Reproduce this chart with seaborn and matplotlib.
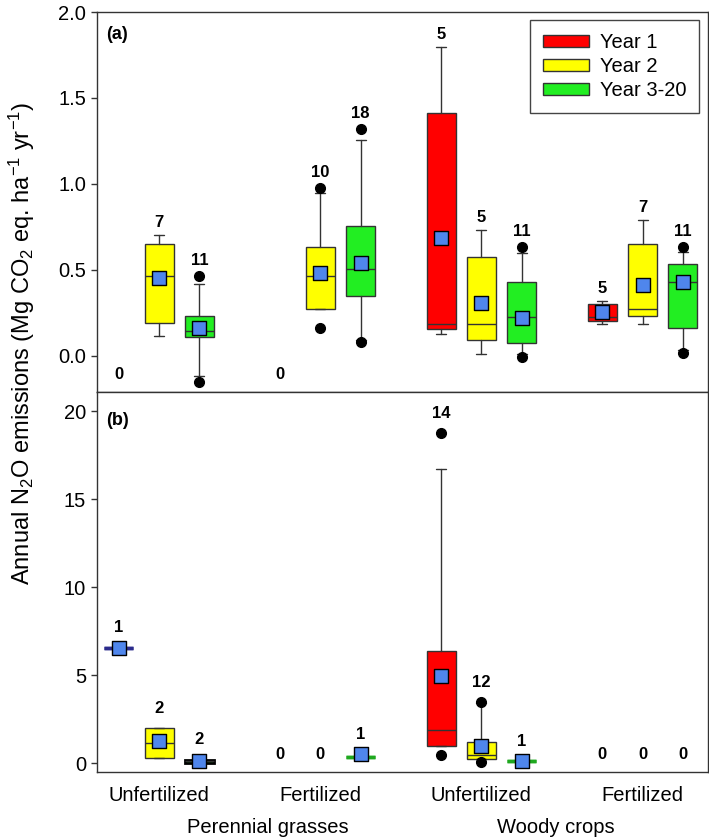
import numpy as np
import pandas as pd
import seaborn as sns
import matplotlib.pyplot as plt
import matplotlib.transforms as mtransforms
from matplotlib.patches import Patch

nan = np.nan

# 4 groups x 3 age classes
groups = ['Unfertilized', 'Fertilized', 'Unfertilized', 'Fertilized']
crops = ['Perennial grasses', 'Woody crops']
years = ['Year 1', 'Year 2', 'Year 3-20']
year_of = years * 4
positions = [0, 1, 2, 4, 5, 6, 8, 9, 10, 12, 13, 14]
group_centers = [1, 5, 9, 13]

# panel (a) -- Mg CO2 eq. ha-1 yr-1
a_n = [0, 7, 11, 0, 10, 18, 5, 5, 11, 5, 7, 11]
a_lo = [nan, 0.116, -0.116, nan, 0.273, 0.095, 0.126, 0.010, 0.010, 0.186, 0.186, 0.035]
a_q1 = [nan, 0.192, 0.112, nan, 0.273, 0.349, 0.155, 0.095, 0.076, 0.205, 0.231, 0.165]
a_med = [nan, 0.465, 0.147, nan, 0.465, 0.508, 0.186, 0.186, 0.229, 0.229, 0.275, 0.432]
a_q3 = [nan, 0.651, 0.233, nan, 0.636, 0.756, 1.413, 0.576, 0.432, 0.300, 0.653, 0.533]
a_hi = [nan, 0.703, 0.419, nan, 0.949, 1.256, 1.798, 0.733, 0.600, 0.322, 0.793, 0.603]
a_mean = [nan, 0.453, 0.165, nan, 0.481, 0.541, 0.688, 0.308, 0.223, 0.258, 0.413, 0.432]
a_fliers = [[], [], [0.465, -0.149], [], [0.979, 0.163], [1.318, 0.083],
            [], [], [0.632, -0.004], [], [], [0.632, 0.016]]

# panel (b)
b_n = [1, 2, 2, 0, 0, 1, 14, 12, 1, 0, 0, 0]
b_lo = [6.57, 0.27, 0.03, nan, nan, 0.36, 0.97, 0.25, 0.11, nan, nan, nan]
b_q1 = [6.57, 0.27, 0.03, nan, nan, 0.36, 0.97, 0.25, 0.11, nan, nan, nan]
b_med = [6.57, 1.15, 0.11, nan, nan, 0.36, 1.875, 0.47, 0.11, nan, nan, nan]
b_q3 = [6.57, 1.99, 0.19, nan, nan, 0.36, 6.36, 1.21, 0.11, nan, nan, nan]
b_hi = [6.57, 1.99, 0.19, nan, nan, 0.36, 16.72, 3.40, 0.11, nan, nan, nan]
b_mean = [6.57, 1.27, 0.15, nan, nan, 0.50, 4.98, 0.97, 0.11, nan, nan, nan]
b_fliers = [[], [], [], [], [], [], [18.77, 0.49], [3.50, 0.06], [], [], [], []]

colors = {'Year 1': '#FF0000', 'Year 2': '#FFFF00', 'Year 3-20': '#22EE22'}
line_colors = {'Year 1': '#2B2B8C', 'Year 2': '#999900', 'Year 3-20': '#1FA81F'}
edge = '#333333'

sns.set_style('ticks')
plt.rcParams['font.family'] = ['Liberation Sans', 'DejaVu Sans']
plt.rcParams['mathtext.fontset'] = 'custom'
plt.rcParams['mathtext.rm'] = 'Liberation Sans'
plt.rcParams['mathtext.it'] = 'Liberation Sans:italic'
plt.rcParams['axes.edgecolor'] = edge
plt.rcParams['axes.linewidth'] = 1.0
plt.rcParams['text.color'] = 'black'


def draw_panel(ax, n, lo, q1, med, q3, hi, mean, fliers, off_line, off_flier):
    keep = [i for i in range(len(n)) if n[i] > 0]
    stats = []
    for i in keep:
        stats.append(dict(med=med[i], q1=q1[i], q3=q3[i], whislo=lo[i],
                          whishi=hi[i], fliers=np.array(fliers[i])))
    bp = ax.bxp(stats, positions=[positions[i] for i in keep], widths=0.72,
                capwidths=0.25, patch_artist=True, manage_ticks=False,
                boxprops=dict(edgecolor=edge, linewidth=1),
                medianprops=dict(color=edge, linewidth=1),
                whiskerprops=dict(color=edge, linewidth=1),
                capprops=dict(color=edge, linewidth=1),
                flierprops=dict(marker='o', markerfacecolor='black',
                                markeredgecolor='black', markersize=7))
    for k, i in enumerate(keep):
        box = bp['boxes'][k]
        box.set_facecolor(colors[year_of[i]])
        if q1[i] == q3[i]:
            c = line_colors[year_of[i]]
            box.set_edgecolor(c)
            box.set_linewidth(2.5)
            bp['medians'][k].set_color(c)
            bp['medians'][k].set_linewidth(2.5)
        elif n[i] == 2 and (q3[i] - q1[i]) < 0.5:
            box.set_edgecolor('black')
            box.set_linewidth(2)

    df = pd.DataFrame({'pos': [positions[i] for i in keep],
                       'mean': [mean[i] for i in keep]})
    sns.scatterplot(data=df, x='pos', y='mean', marker='s', s=90,
                    color='#4F86EC', edgecolor='black', linewidth=1,
                    ax=ax, zorder=6, legend=False)

    trans = mtransforms.blended_transform_factory(ax.transData, ax.transAxes)
    for i in range(len(n)):
        if n[i] == 0:
            ax.text(positions[i], 0.045, '0', transform=trans, ha='center',
                    va='center', fontsize=12, fontweight='bold')
            continue
        top = max(hi[i], q3[i], mean[i])
        off = off_line
        if fliers[i] and max(fliers[i]) > top:
            top = max(fliers[i])
            off = off_flier
        ax.annotate(str(n[i]), (positions[i], top), xytext=(0, off),
                    textcoords='offset points', ha='center', va='center',
                    fontsize=12, fontweight='bold')
    ax.set_xlabel('')
    ax.set_ylabel('')


fig = plt.figure(figsize=(7.09, 8.4), dpi=100)
left = 97 / 709
width = (707.5 - 97) / 709
ax_a = fig.add_axes([left, 1 - 392 / 840, width, 380 / 840])
ax_b = fig.add_axes([left, 1 - 772 / 840, width, 380 / 840])

draw_panel(ax_a, a_n, a_lo, a_q1, a_med, a_q3, a_hi, a_mean, a_fliers, 9, 11)
draw_panel(ax_b, b_n, b_lo, b_q1, b_med, b_q3, b_hi, b_mean, b_fliers, 14.5, 14)

for ax in (ax_a, ax_b):
    ax.set_xlim(-0.54, 14.61)
    ax.tick_params(axis='y', direction='out', length=4, width=1, colors=edge,
                   labelcolor='black', labelsize=14.5, pad=4)
    for s in ax.spines.values():
        s.set_visible(True)

ax_a.set_ylim(-0.21, 2.0)
ax_a.set_yticks([0.0, 0.5, 1.0, 1.5, 2.0])
ax_a.set_yticklabels(['0.0', '0.5', '1.0', '1.5', '2.0'])
ax_a.set_xticks([])

ax_b.set_ylim(-0.5, 21.1)
ax_b.set_yticks([0, 5, 10, 15, 20])
ax_b.set_xticks(group_centers)
ax_b.set_xticklabels(groups)
ax_b.tick_params(axis='x', length=0, labelsize=14.5, pad=10, labelcolor='black')

trans_b = mtransforms.blended_transform_factory(ax_b.transData, ax_b.transAxes)
ax_b.text(3.7, -0.145, crops[0], transform=trans_b, ha='center', va='center',
          fontsize=14.5)
ax_b.text(10.85, -0.145, crops[1], transform=trans_b, ha='center', va='center',
          fontsize=14.5)

ax_a.text(0.015, 0.94, '(a)', transform=ax_a.transAxes, ha='left', va='center',
          fontsize=13, fontweight='bold')
ax_b.text(0.015, 0.926, '(b)', transform=ax_b.transAxes, ha='left', va='center',
          fontsize=13, fontweight='bold')

handles = [Patch(facecolor=colors[y], edgecolor=edge, linewidth=1, label=y)
           for y in years]
leg = ax_a.legend(handles=handles, loc='upper right', fontsize=14.5,
                  frameon=True, fancybox=False, framealpha=1,
                  edgecolor='#444444', handlelength=2.3, handleheight=0.55,
                  handletextpad=0.55, labelspacing=0.25, borderpad=0.62,
                  borderaxespad=0.42)
leg.get_frame().set_linewidth(1)

fig.text(22 / 709, 1 - 343 / 840,
         r'Annual N$\mathregular{_2}$O emissions (Mg CO$\mathregular{_2}$ eq. '
         r'ha$\mathregular{^{-1}}$ yr$\mathregular{^{-1}}$)',
         rotation=90, ha='center', va='center', fontsize=17)

fig.savefig('out.png', dpi=100)
plt.close(fig)
